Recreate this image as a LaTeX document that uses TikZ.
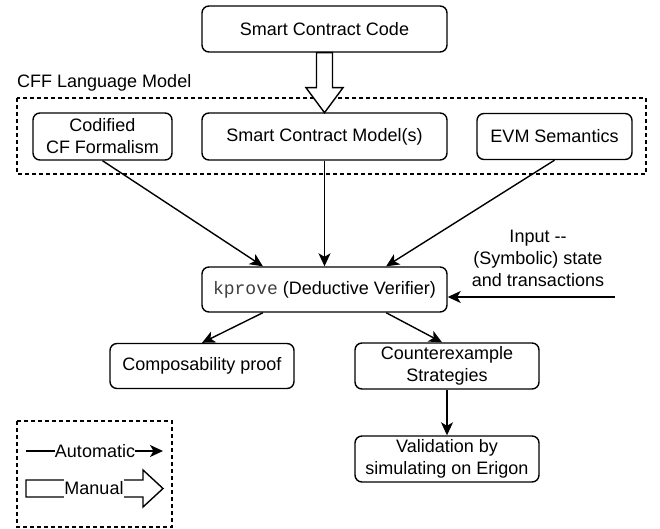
\documentclass[tikz,border=0pt]{standalone}
\usepackage{fontspec}
\setmainfont{Liberation Sans}
\newfontfamily\kmono{Liberation Mono}
\usetikzlibrary{arrows.meta,calc}
\begin{document}
\begin{tikzpicture}[x=1pt,y=-1pt,
  box/.style={draw, line width=1.4pt, rounded corners=7pt, align=center, inner sep=0pt, font=\fontsize{18}{22}\selectfont},
  autoarr/.style={draw, line width=1.4pt, -{Stealth[length=13pt,width=12pt,inset=3.5pt]}},
  dashbox/.style={draw, line width=1.2pt, dash pattern=on 4pt off 3pt},
  lbl/.style={font=\fontsize{18}{22}\selectfont, inner sep=0pt, align=center},
  blockarr/.style={draw, line width=1.4pt, fill=white, line join=miter},
]
\useasboundingbox (0,0) rectangle (660,529);
\fill[white] (0,0) rectangle (660,529);

% top box
\node[box, minimum width=245pt, minimum height=46pt] (code) at (324.5,29) {Smart Contract Code};

% CFF language model group
\draw[dashbox] (17,98) rectangle (646,174);
\node[lbl, anchor=base west] (cfflbl) at (17,88) {CFF Language Model};

\node[box, minimum width=139pt, minimum height=47pt] (codified) at (102.5,136.5) {Codified\\CF Formalism};
\node[box, minimum width=245pt, minimum height=47pt] (model) at (324.5,136.5) {Smart Contract Model(s)};
\node[box, minimum width=155pt, minimum height=46pt] (evm) at (554.5,136.5) {EVM Semantics};

% manual arrow code -> model
\draw[blockarr] ([xshift=-8pt]code.south) -- ++(0,35) -- ++(-10.5,0) -- ++(18.5,25) -- ++(18.5,-25) -- ++(-10.5,0) -- ++(0,-35) -- cycle;

% verifier
\node[box, minimum width=245pt, minimum height=45pt] (kprove) at (324.5,289.5) {{\kmono\color{black!75}kprove} (Deductive Verifier)};

\draw[autoarr] (codified.south) -- ($(kprove.north west)!0.25!(kprove.north east)$);
\draw[autoarr] (model.south) -- (kprove.north);
\draw[autoarr] (evm.south) -- ($(kprove.north west)!0.75!(kprove.north east)$);

% input
\node[lbl] (inp) at (538,258) {Input -{}-\\(Symbolic) state\\and transactions};
\coordinate (inpstart) at (615,297);
\draw[autoarr] (inpstart) -- (kprove.east |- inpstart);

% outputs
\node[box, minimum width=184pt, minimum height=45pt] (comp) at (202,366) {Composability proof};
\node[box, minimum width=184pt, minimum height=46pt] (counter) at (447,366) {Counterexample\\Strategies};
\node[box, minimum width=184pt, minimum height=46pt] (valid) at (447,459) {Validation by\\simulating on Erigon};

\draw[autoarr] ($(kprove.south west)!0.25!(kprove.south east)$) -- (comp.north);
\draw[autoarr] ($(kprove.south west)!0.75!(kprove.south east)$) -- ([xshift=-5pt]counter.north);
\draw[autoarr] (counter.south) -- (valid.north);

% legend
\draw[dashbox] (17,421) rectangle (172,527);
\coordinate (autoA) at (26,451);
\coordinate (autoB) at (163,451);
\draw[autoarr] (autoA) -- (autoB);
\node[lbl, fill=white, inner ysep=2pt] (autolbl) at (95,451) {Automatic};

\draw[blockarr] (26,480) -- (143,480) -- (143,470) -- (163,488.5) -- (143,507) -- (143,497) -- (26,497) -- cycle;
\node[lbl, fill=white, inner ysep=3pt] (manlbl) at (94,488.5) {Manual};
\end{tikzpicture}
\end{document}
